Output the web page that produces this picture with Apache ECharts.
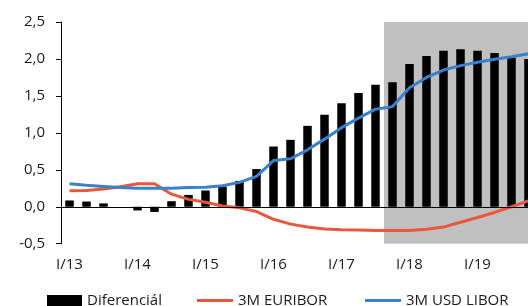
<!DOCTYPE html>
<html>
<head>
<meta charset="utf-8">
<script src="https://cdn.jsdelivr.net/npm/echarts@6/dist/echarts.min.js"></script>
<style>html,body{margin:0;padding:0;background:#fff}#c{width:528px;height:306px}</style>
</head>
<body>
<div id="c"></div>
<script>
const categories = ['I/13','II/13','III/13','IV/13','I/14','II/14','III/14','IV/14','I/15','II/15','III/15','IV/15','I/16','II/16','III/16','IV/16','I/17','II/17','III/17','IV/17','I/18','II/18','III/18','IV/18','I/19','II/19','III/19','IV/19'];
const diferencial = [0.085,0.07,0.045,0.0,-0.05,-0.07,0.075,0.16,0.22,0.275,0.35,0.51,0.815,0.905,1.095,1.245,1.40,1.54,1.65,1.685,1.93,2.04,2.11,2.13,2.11,2.08,2.02,2.00];
const euribor = [0.215,0.22,0.24,0.27,0.31,0.31,0.17,0.10,0.06,0.01,-0.015,-0.065,-0.17,-0.235,-0.275,-0.30,-0.31,-0.315,-0.32,-0.32,-0.32,-0.305,-0.275,-0.21,-0.145,-0.077,0.0,0.08];
const libor = [0.31,0.29,0.275,0.26,0.25,0.25,0.25,0.26,0.265,0.285,0.33,0.41,0.625,0.65,0.77,0.915,1.07,1.20,1.32,1.355,1.61,1.75,1.85,1.91,1.955,1.995,2.03,2.07];
const yTicks = {min: -0.5, max: 2.5, interval: 0.5};
const shadeFrom = 19; // band index where the shaded forecast area starts (IV/17)

const FONT = 'Open Sans';
const RED = '#E9573D', BLUE = '#3A80CB';
const chart = echarts.init(document.getElementById('c'), null, {renderer: 'canvas'});
const legendText = {fontFamily: FONT, fontSize: 15, color: '#1a1a1a', lineHeight: 16, padding: [4, 0, 0, 0]};
const legendBase = {top: 290.5, padding: 0, itemGap: 5, textStyle: legendText, selectedMode: false};
chart.setOption({
  animation: false,
  grid: {left: 61, width: 476, top: 22, height: 221.7, containLabel: false, outerBoundsMode: 'none'},
  legend: [
    Object.assign({data: [{name: 'Diferenciál', icon: 'rect', itemStyle: {color: '#000'}}], left: 47, itemWidth: 35, itemHeight: 11}, legendBase),
    Object.assign({data: [{name: '3M EURIBOR', icon: 'rect', itemStyle: {color: RED}}], left: 197, itemWidth: 36, itemHeight: 3}, legendBase),
    Object.assign({data: [{name: '3M USD LIBOR', icon: 'rect', itemStyle: {color: BLUE}}], left: 365, itemWidth: 36, itemHeight: 3}, legendBase)
  ],
  xAxis: [
    {type: 'category', data: categories, boundaryGap: true,
     axisLine: {show: false, onZero: false}, axisTick: {show: false},
     axisLabel: {interval: 3, margin: 14, fontFamily: FONT, fontSize: 15, color: '#1a1a1a'},
     splitLine: {show: false}},
    {type: 'value', min: 0, max: categories.length, show: false}
  ],
  yAxis: {
    type: 'value', min: yTicks.min, max: yTicks.max, interval: yTicks.interval,
    axisLine: {show: true, onZero: false, lineStyle: {color: '#000', width: 1}},
    axisTick: {show: true, inside: false, length: 5, lineStyle: {color: '#000'}},
    axisLabel: {margin: 16, fontFamily: FONT, fontSize: 15, color: '#1a1a1a',
      formatter: v => v.toFixed(1).replace('.', ',')},
    splitLine: {show: false}
  },
  series: [
    {type: 'line', name: 'shade', xAxisIndex: 1, data: [], z: 0, silent: true,
     markArea: {silent: true, itemStyle: {color: '#c0c0c0'},
       data: [[{xAxis: shadeFrom, yAxis: yTicks.min}, {xAxis: categories.length, yAxis: yTicks.max}]]}},
    {type: 'bar', name: 'Diferenciál', data: diferencial, barWidth: '50%', z: 2,
     itemStyle: {color: '#000'},
     markLine: {silent: true, symbol: 'none', label: {show: false},
       lineStyle: {color: '#000', width: 1, type: 'solid'}, data: [{yAxis: 0}]}},
    {type: 'line', name: '3M EURIBOR', data: euribor, symbol: 'none', z: 3,
     lineStyle: {color: RED, width: 3}, itemStyle: {color: RED}},
    {type: 'line', name: '3M USD LIBOR', data: libor, symbol: 'none', z: 4,
     lineStyle: {color: BLUE, width: 3}, itemStyle: {color: BLUE}}
  ]
});
</script>
</body>
</html>
